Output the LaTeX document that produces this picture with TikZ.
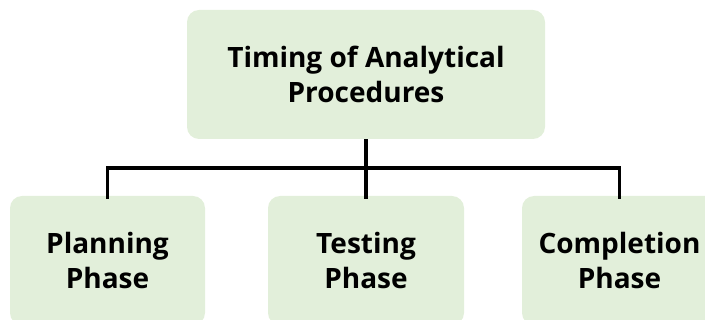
\documentclass[tikz,border=0pt]{standalone}
\usepackage{fontspec}
\setmainfont{Open Sans}
\definecolor{boxfill}{HTML}{E2EFDA}
\begin{document}
\begin{tikzpicture}[x=1pt,y=1pt,
  box/.style={rectangle, rounded corners=12pt, fill=boxfill, draw=none, align=center,
    font=\fontsize{28}{35}\selectfont\bfseries, text=black, inner sep=0pt},
  conn/.style={line width=3.6pt, draw=black}]
\useasboundingbox (0,0) rectangle (705,-320);
\clip (0,0) rectangle (705,-320);
\node[box, minimum width=358pt, minimum height=129pt] (top) at (366,-74.5) {Timing of Analytical\\Procedures};
\node[box, minimum width=195pt, minimum height=129pt] (left) at (107.5,-260.5) {Planning\\Phase};
\node[box, minimum width=196pt, minimum height=129pt] (mid) at (366,-260.5) {Testing\\Phase};
\node[box, minimum width=195pt, minimum height=129pt] (right) at (619.5,-260.5) {Completion\\Phase};
\coordinate (bus) at (366,-168);
\draw[conn] (top.south) -- (bus);
\draw[conn] ([yshift=-3pt]left.north) -- (left.north |- bus) -- (right.north |- bus) -- ([yshift=-3pt]right.north);
\draw[conn] ([yshift=-3pt]mid.north) -- (bus);
\end{tikzpicture}
\end{document}
